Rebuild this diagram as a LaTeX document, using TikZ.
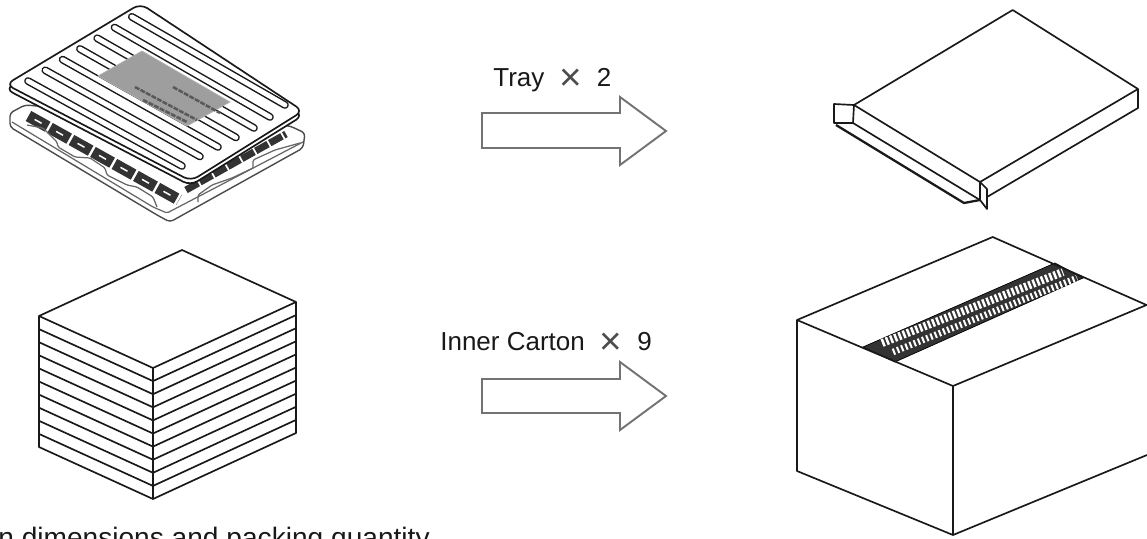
\documentclass[tikz,border=0pt]{standalone}
\usepackage{fontspec}
\setmainfont{Liberation Sans}
\usepackage{tikz}
\newcommand{\timessign}{\hspace{0.3cm}\raisebox{-0.08cm}{\fontsize{22pt}{22pt}\selectfont\color{black!70}×}\hspace{0.3cm}}
\tikzset{
    x=0.02cm,
    y=-0.02cm,
    boxline/.style = {
        draw=black!90,
        line width=0.95pt,
        line join=round
    },
    hollow/.style = {
        draw=black!55,
        line width=1.1pt,
        line join=miter
    },
    plate/.style = {
        draw=black!90,
        fill=white,
        rounded corners=0.16cm,
        line width=0.95pt
    },
    rim/.style = {
        draw=black!70,
        fill=white,
        rounded corners=0.07cm,
        line width=0.8pt
    },
    notch/.style = {
        draw=black!60,
        rounded corners=0.03cm,
        line width=0.7pt
    },
    slotline/.style = {
        draw=black!90,
        double=white,
        double distance=0.095cm,
        line width=0.85pt,
        line cap=round
    },
    cellband/.style = {
        draw=black!80,
        line width=0.23cm,
        dash pattern=on 0.44cm off 0.052cm
    },
    cellbar/.style = {
        draw=white,
        line width=0.03cm,
        dash pattern=on 0.16cm off 0.332cm,
        dash phase=0.352cm
    },
    labeltext/.style = {
        draw=black!65,
        line width=0.05cm,
        dash pattern=on 0.1cm off 0.025cm
    },
    caption/.style = {
        anchor=base west,
        inner sep=0pt,
        text=black!90,
        font=\fontsize{14.8pt}{16pt}\selectfont
    }
}

\begin{document}
\begin{tikzpicture}
    \useasboundingbox (0,0) rectangle (1147,538);
    \clip (0,0) rectangle (1147,538);

    % lower tray
    \path[rim] (25,105) -- (10,113) -- (10,127) -- (157,215) -- (170,222) -- (303,148) -- (305,133) -- (290,126) -- cycle;
    \path[notch] (12,122) -- (153,207) -- (167,213) -- (303,142);
    \path[cellband] (28.5,116) -- (179,200);
    \path[cellbar] (28.5,116) -- (179,200);
    \path[draw=black!80, line width=0.14cm, dash pattern=on 0.28cm off 0.04cm] (186,190) -- (286,134);
    \path[notch] (27,125) -- (43,128) -- (57,142) -- (58,147) -- (75,157) -- (90,158) -- (105,168) -- (107,175) -- (127,185) -- (137,187) -- (153,197) -- (157,207);
    \path[notch] (198,202) -- (198,195) -- (212,185) -- (232,178) -- (253,168);
    \path[notch] (253,168) -- (253,160) -- (275,150) -- (300,143);

    % upper tray
    \path[plate] (140,8) -- (5.5,89) -- (190.5,185.5) -- (303,115.5) -- cycle;
    \path[plate] (140.5,3.7) -- (6,84.4) -- (191,181) -- (303,111) -- cycle;
    \path[slotline] (28,81) -- (182,166);
    \path[slotline] (45.3,70.3) -- (200,156.5);
    \path[slotline] (62.6,59.6) -- (218,147);
    \path[slotline] (79.9,48.9) -- (236,137.5);
    \path[slotline] (97.2,38.2) -- (254,128);
    \path[slotline] (114.5,27.5) -- (270,117);
    \path[slotline] (131.8,16.8) -- (285,105);
    \path[draw=black!30, fill=black!38] (142,51) -- (98,76) -- (187,126) -- (230,102) -- cycle;
    \path[labeltext] (135,87) -- (197,120);
    \path[labeltext] (143,100) -- (187,122);
    \path[labeltext] (173,87) -- (220,113);

    % closed tray box
    \path[boxline] (1012.7,10) -- (854,105) -- (980,182) -- (1138,89) -- cycle;
    \path[boxline] (1138,89) -- (1138,108) -- (987,197);
    \path[boxline] (854,105) -- (834,104) -- (834,123) -- (853,123) -- cycle;
    \path[boxline] (853,123) -- (980,200);
    \path[boxline, line width=1.3pt] (836,125) -- (964,203) -- (980,200);
    \path[boxline] (980,182) -- (980,200) -- (987,209) -- (987,189) -- cycle;

    % stack of tray boxes
    \path[boxline] (182,250) -- (39,316) -- (153,368) -- (296,302) -- cycle;
    \path[boxline] (39,316) -- (39,447) -- (153,499) -- (296,433) -- (296,302);
    \path[boxline] (153,368) -- (153,499);
    \path[boxline] (39,329.1) -- (153,381.1) -- (296,315.1);
    \path[boxline] (39,342.2) -- (153,394.2) -- (296,328.2);
    \path[boxline] (39,355.3) -- (153,407.3) -- (296,341.3);
    \path[boxline] (39,368.4) -- (153,420.4) -- (296,354.4);
    \path[boxline] (39,381.5) -- (153,433.5) -- (296,367.5);
    \path[boxline] (39,394.6) -- (153,446.6) -- (296,380.6);
    \path[boxline] (39,407.7) -- (153,459.7) -- (296,393.7);
    \path[boxline] (39,420.8) -- (153,472.8) -- (296,406.8);
    \path[boxline] (39,433.9) -- (153,485.9) -- (296,419.9);

    % carton with tape
    \path[draw, fill=black!80] (863,347) -- (895,362) -- (1083,278) -- (1055,263) -- cycle;
    \path[draw=white, line width=0.16cm, dash pattern=on 0.05cm off 0.04cm] (882,343) -- (1063,272);
    \path[draw=white, line width=0.13cm, dash pattern=on 0.04cm off 0.05cm] (893,352) -- (1077,278);
    \path[boxline] (992.7,237) -- (797,320) -- (953,386) -- (1146.5,305) -- cycle;
    \path[boxline] (797,320) -- (797,471) -- (953,535) -- (1147,455);
    \path[boxline] (953,386) -- (953,535);

    % hollow arrows
    \path[hollow] (482,113) -- (620,113) -- (620,97) -- (666,131) -- (620,165) -- (620,148) -- (482,148) -- cycle;
    \path[hollow] (482,379) -- (620,379) -- (620,362) -- (666,396) -- (620,430) -- (620,413) -- (482,413) -- cycle;

    \node[caption] (traylabel) at (493,86) {Tray\timessign 2};
    \node[caption] (cartonlabel) at (440,350) {Inner Carton\timessign 9};
    \node[caption, font=\fontsize{16pt}{17pt}\selectfont] (foottext) at (-2,547) {n dimensions and packing quantity};
\end{tikzpicture}
\end{document}
